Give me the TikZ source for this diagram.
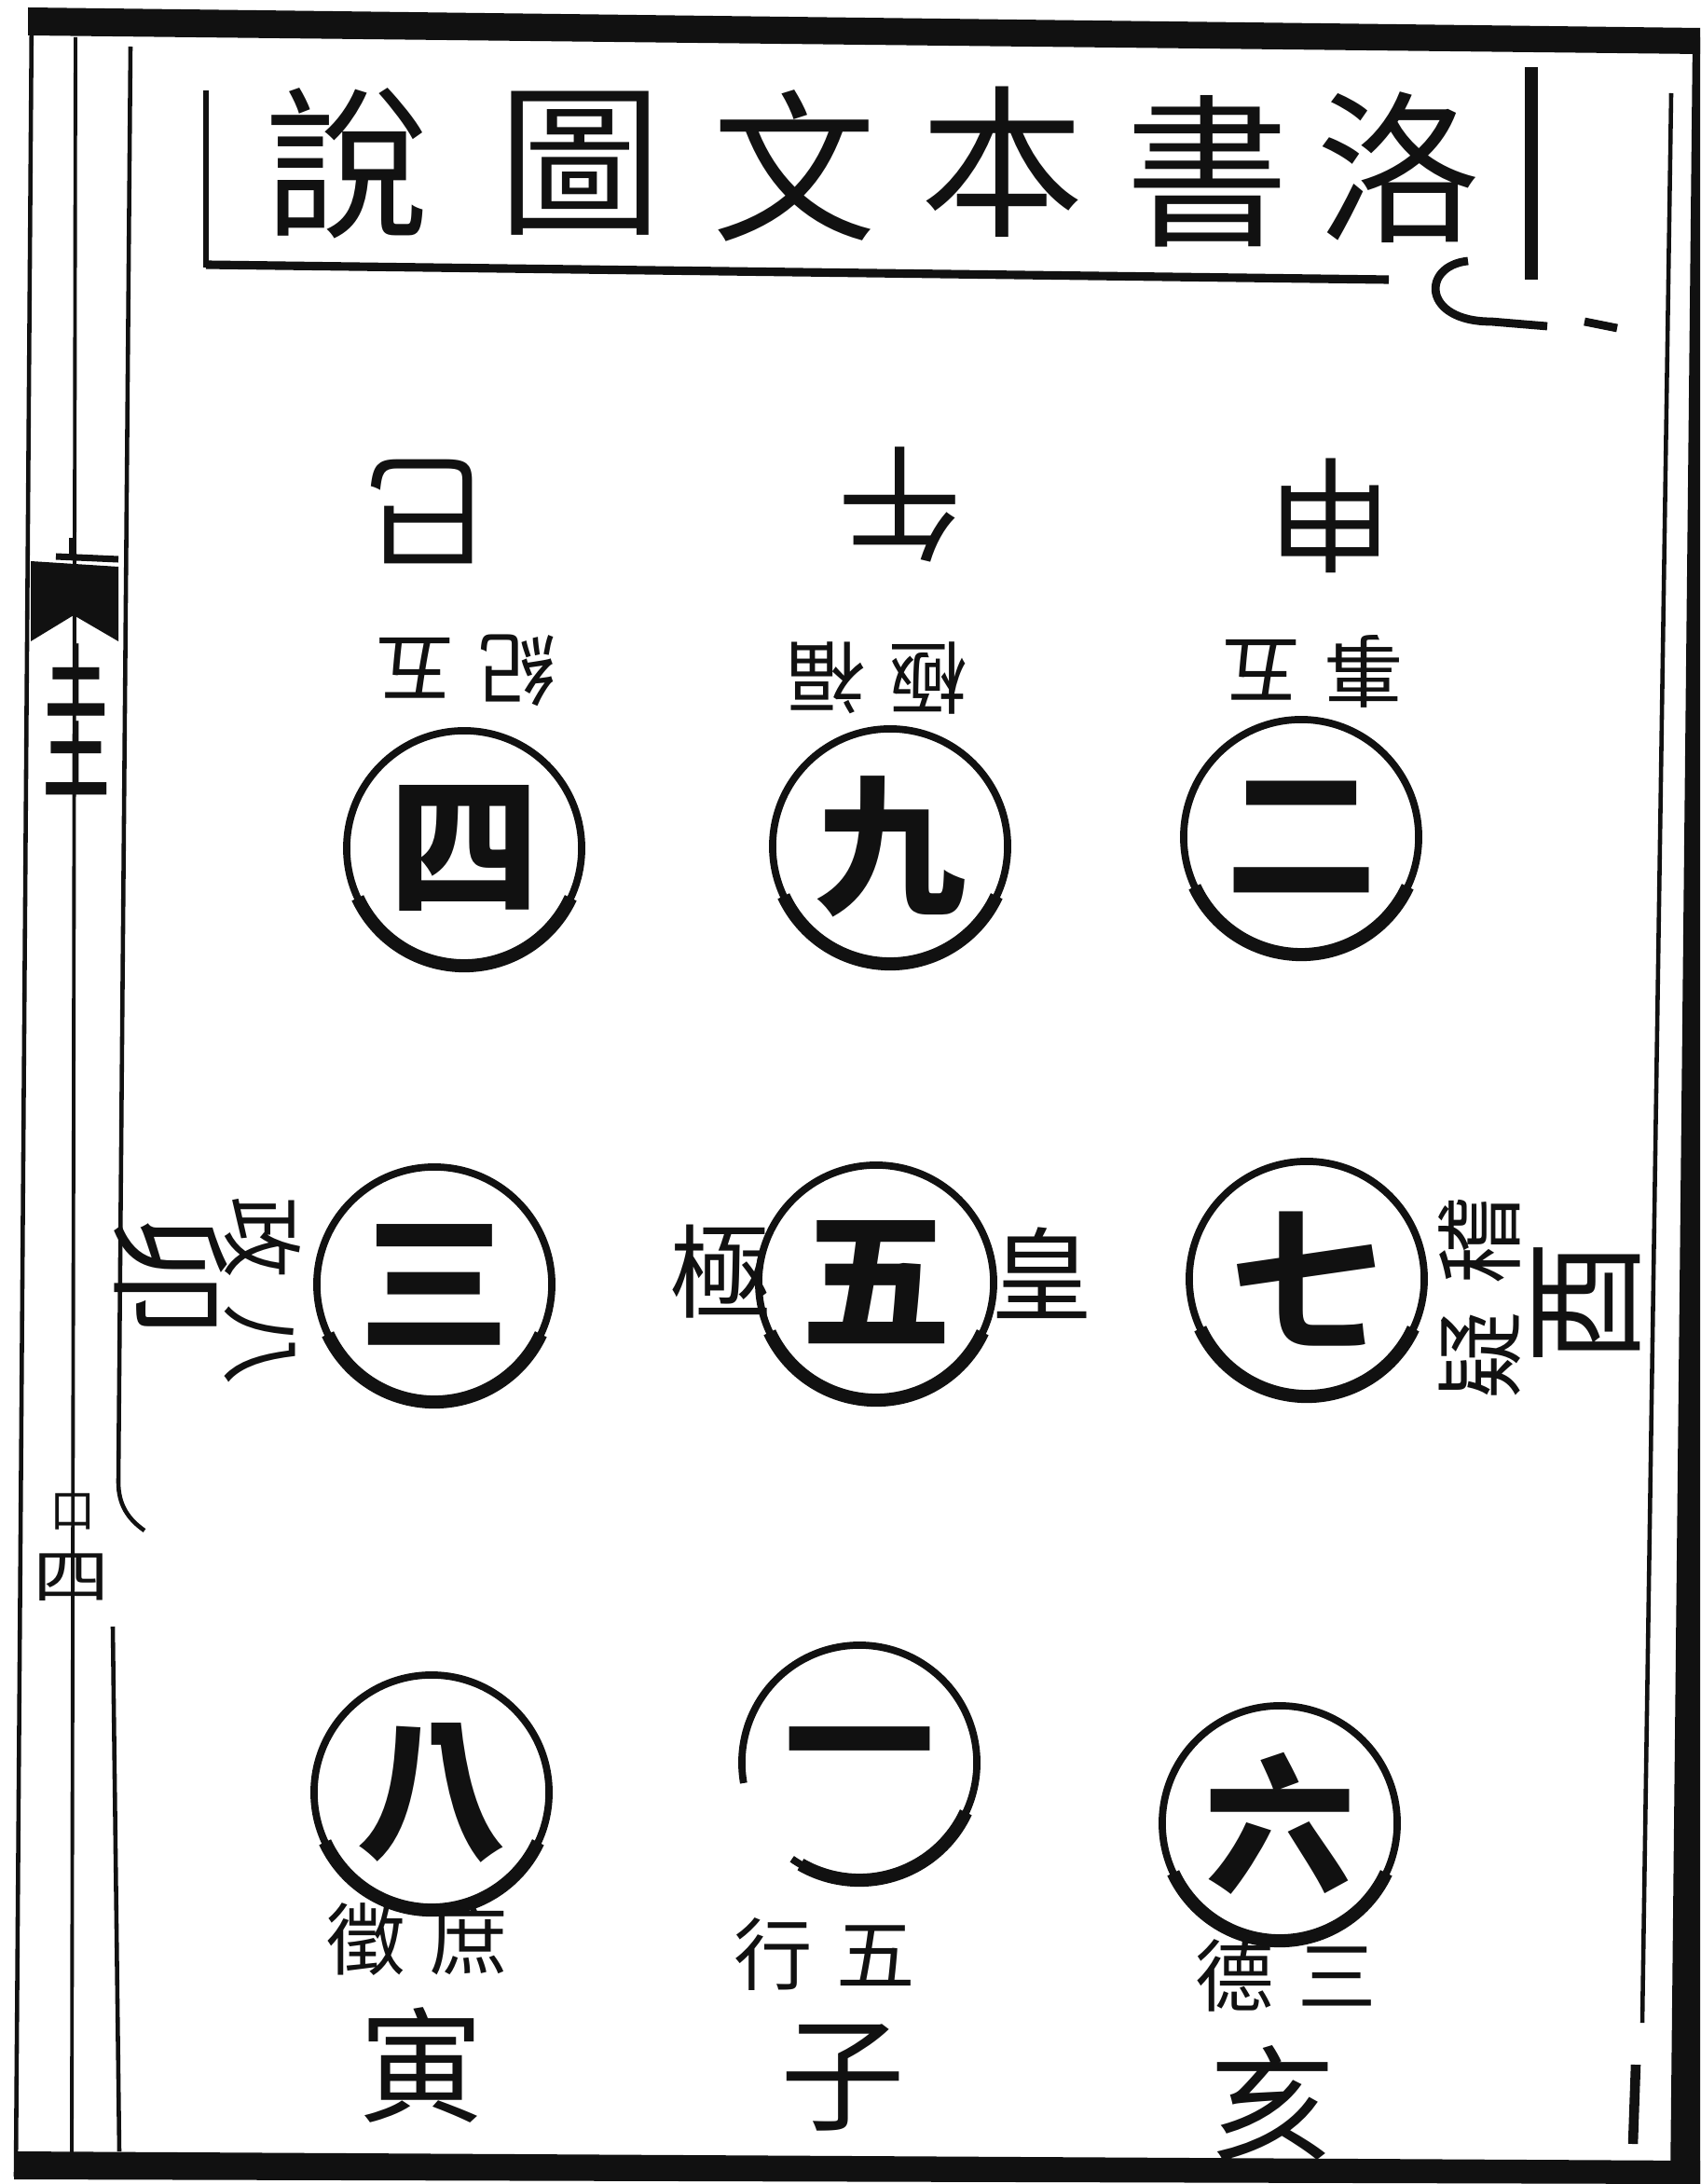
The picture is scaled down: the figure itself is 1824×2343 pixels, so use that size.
\documentclass[tikz,border=0pt]{standalone}
\usepackage{fontspec}
\newfontfamily\cjk{Noto Sans CJK TC}
\usetikzlibrary{positioning}
\definecolor{Ink}{HTML}{111111}
\definecolor{Paper}{HTML}{FFFFFF}

\begin{document}
\begin{tikzpicture}[x=0.01cm,y=-0.01cm,
 ring/.style={draw=Ink,line width=2.2pt,circle,minimum size=2.52cm,inner sep=0pt,outer sep=0pt,text=Ink,font=\cjk\bfseries\fontsize{46pt}{46pt}\selectfont},
 num/.style={circle,minimum size=2.52cm,inner sep=0pt,outer sep=0pt,text=Ink,font=\cjk\bfseries\fontsize{46pt}{46pt}\selectfont},
 heavy/.style={draw=Ink,line width=4pt},
 ttl/.style={text=Ink,inner sep=0pt,font=\cjk\fontsize{50pt}{50pt}\selectfont},
 br/.style={text=Ink,inner sep=0pt,font=\cjk\fontsize{38pt}{38pt}\selectfont},
 lab/.style={text=Ink,inner sep=0pt,font=\cjk\fontsize{24pt}{24pt}\selectfont},
 frm/.style={draw=Ink,line width=1.3pt}
]
\useasboundingbox (0,0) rectangle (1824,2343);
\fill[Paper] (0,0) rectangle (1824,2343);
% page frame
\fill[Ink] (30,8) -- (1824,30) -- (1824,58) -- (30,38) -- cycle;
\fill[Ink] (1816,40) -- (1824,40) -- (1824,2343) -- (1792,2343) -- cycle;
\fill[Ink] (15,2308) -- (1824,2318) -- (1824,2343) -- (15,2338) -- cycle;
\draw[frm] (34,10) -- (17,2335);
\draw[frm,line width=1.1pt] (81,40) -- (77,2310);
\draw[frm] (140,50) -- (127,1590) .. controls (127,1615) and (138,1630) .. (155,1642);
\draw[frm] (121,1745) -- (128,2308);
\draw[frm] (1793,100) -- (1762,2170);
\draw[frm,line width=3pt] (1755,2215) -- (1752,2300);
% fold margin
\fill[Ink] (33,602) -- (127,608) -- (127,688) -- (79,660) -- (33,688) -- cycle;
\draw[frm,line width=2pt] (60,597) -- (127,600);
\draw[frm,line width=2pt] (78,577) -- (78,597);
\node[br,xscale=0.4,font=\cjk\fontsize{52pt}{52pt}\selectfont] (mg1) at (82,772) {圭};
\node[br,font=\cjk\fontsize{14pt}{14pt}\selectfont] (mg2) at (78,1622) {口};
\node[br,xscale=1.3,font=\cjk\fontsize{18pt}{18pt}\selectfont] (mg3) at (77,1692) {四};
% title
\draw[frm,line width=1.6pt] (221,97) -- (221,287);
\draw[frm,line width=2.6pt] (221,284) -- (1490,300);
\node[ttl] (t6) at (372,175) {說};
\node[ttl] (t5) at (622,175) {圖};
\node[ttl] (t4) at (852,178) {文};
\node[ttl] (t3) at (1075,174) {本};
\node[ttl] (t2) at (1295,184) {書};
\node[ttl] (t1) at (1500,180) {洛};
\draw[frm,line width=4pt] (1643,72) -- (1643,300);
\draw[frm,line width=2.5pt] (1575,280) .. controls (1525,285) and (1525,345) .. (1600,345) -- (1660,350);
\draw[frm,line width=2.5pt] (1700,345) -- (1735,352);
% nine numbers
\node[ring] (c4) at (498,910) {四};
\node[ring] (c9) at (955,908) {九};
\node[ring] (c2) at (1396,898) {二};
\node[ring] (c3) at (466,1378) {三};
\node[ring] (c5) at (940,1376) {五};
\node[ring] (c7) at (1402,1372) {七};
\node[ring] (c8) at (463,1923) {八};
\node[num] (c1) at (922,1891) {一};
\node[ring] (c6) at (1373,1956) {六};
\draw[draw=Ink,line width=2.2pt] (c1.235) arc[start angle=235,end angle=550,radius=1.26cm];
\foreach \c in {c4,c9,c2,c3,c5,c7,c8,c6}
 \draw[heavy] (\c.205) arc[start angle=205,end angle=335,radius=1.26cm];
\draw[heavy] (c1.240) arc[start angle=240,end angle=335,radius=1.26cm];
% branches
\node[br,rotate=180] (si) at (458,549) {巳};
\node[br,rotate=180] (wu) at (966,541) {午};
\node[br,rotate=180] (shen) at (1428,553) {申};
\node[br,rotate=-90] (mao) at (183,1368) {卯};
\node[br,rotate=90] (you) at (1703,1398) {酉};
\node[br] (yin) at (452,2215) {寅};
\node[br] (zi) at (904,2229) {子};
\node[br] (hai) at (1365,2256) {亥};
% categories
\node[lab,rotate=180] (k4) at (500,719) {紀\hspace{0.3em}五};
\node[lab,rotate=180] (k9) at (941,728) {極\hspace{0.3em}福};
\node[lab,rotate=180] (k2) at (1408,720) {事\hspace{0.3em}五};
\node[lab,rotate=-90,font=\cjk\fontsize{25pt}{25pt}\selectfont] (k3) at (282,1385) {政\hspace{0.3em}八};
\node[lab,font=\cjk\fontsize{31pt}{31pt}\selectfont] (ji) at (773,1364) {極};
\node[lab,font=\cjk\fontsize{31pt}{31pt}\selectfont] (huang) at (1118,1366) {皇};
\node[lab,rotate=90,font=\cjk\fontsize{27pt}{27pt}\selectfont] (k7) at (1587,1392) {疑\hspace{0.3em}稽};
\node[lab] (k8) at (448,2080) {徵\hspace{0.3em}庶};
\node[lab] (k1) at (885,2096) {行\hspace{0.3em}五};
\node[lab] (k6) at (1380,2119) {德\hspace{0.3em}三};
\end{tikzpicture}
\end{document}
